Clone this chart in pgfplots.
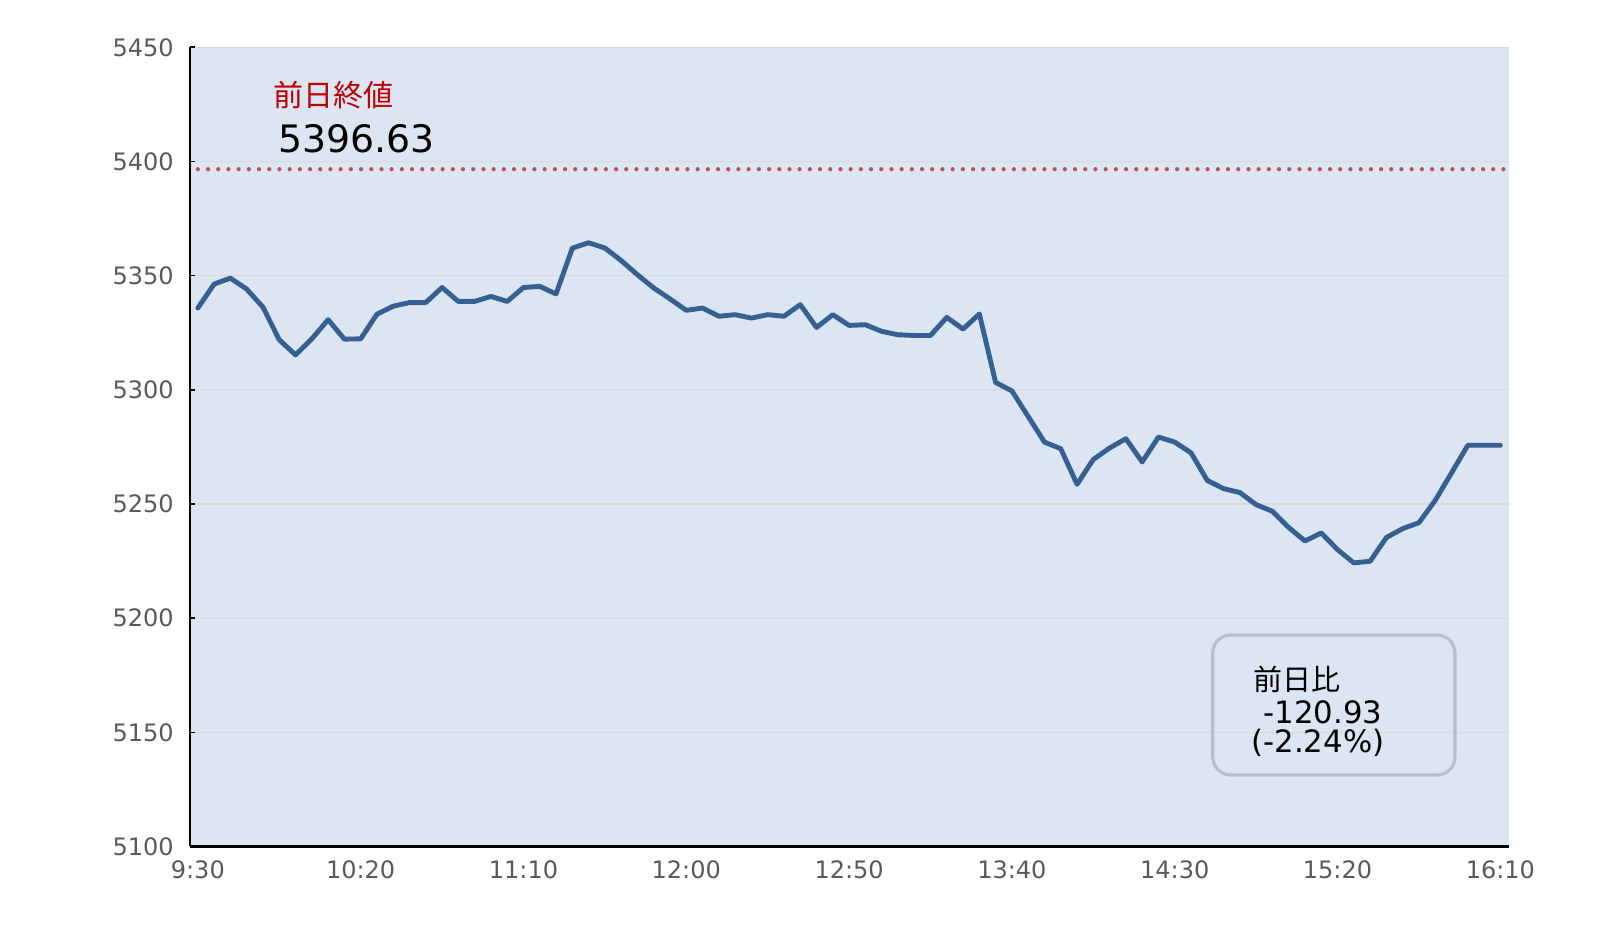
\documentclass[border=0pt]{standalone}
\usepackage{fontspec}
\setmainfont{DejaVu Sans}
\newfontfamily\jp{Noto Sans CJK JP}
\usepackage{pgfplots}
\pgfplotsset{compat=1.18}
\definecolor{bgblue}{RGB}{220,230,242}
\definecolor{lineblue}{RGB}{54,96,146}
\definecolor{dotred}{RGB}{192,80,77}
\definecolor{txtred}{RGB}{192,0,0}
\definecolor{tickgray}{RGB}{89,89,89}
\definecolor{gridgray}{RGB}{217,217,217}
\definecolor{boxgray}{RGB}{185,191,199}
\begin{document}
\begin{tikzpicture}
\useasboundingbox (0,0) rectangle (804pt,465pt);
\begin{axis}[
  at={(94.85pt,41.75pt)}, anchor=south west,
  scale only axis, width=659.4pt, height=399.6pt,
  xmin=-0.5, xmax=80.5, ymin=5100, ymax=5450,
  axis background/.style={fill=bgblue},
  axis x line=bottom, axis y line=left,
  x axis line style={-, black, line width=1.3pt},
  y axis line style={-, black, line width=1.1pt},
  xtick={0,10,...,80},
  xticklabels={9:30,10:20,11:10,12:00,12:50,13:40,14:30,15:20,16:10},
  extra x ticks={4.5,14.5,24.5,34.5,44.5,54.5,64.5,74.5,79.5},
  extra x tick labels={},
  extra x tick style={major tick length=2.5pt, tick style={black, line width=0.8pt}, grid=none},
  ytick={5100,5150,...,5450},
  ymajorgrids, grid style={gridgray, line width=0.6pt},
  tick align=inside,
  x tick style={draw=none},
  y tick style={black, line width=0.8pt},
  major tick length=2.5pt,
  tick label style={font=\fontsize{12}{14}\selectfont, text=tickgray},
  /pgf/number format/assume math mode=true,
  yticklabel style={/pgf/number format/1000 sep={}, xshift=-4.5pt},
  xticklabel style={yshift=-3.5pt},
  clip=false,
]
\addplot[dotred, line width=2.1pt, dash pattern=on 0pt off 5.1pt, line cap=round]
  coordinates {(0,5396.63) (80.3,5396.63)};
\addplot[lineblue, line width=2.45pt, line join=round, line cap=round, mark=none] coordinates {
(0,5335.8) (1,5346.3) (2,5348.9) (3,5344.1) (4,5336.2) (5,5321.9) (6,5315.3) (7,5322.3) (8,5330.7) (9,5322.2)
(10,5322.3) (11,5333.1) (12,5336.6) (13,5338.2) (14,5338.2) (15,5344.8) (16,5338.7) (17,5338.7) (18,5340.9) (19,5338.7)
(20,5344.8) (21,5345.3) (22,5342.0) (23,5362.0) (24,5364.4) (25,5362.1) (26,5356.6) (27,5350.4) (28,5344.6) (29,5339.8)
(30,5334.8) (31,5335.8) (32,5332.2) (33,5332.9) (34,5331.4) (35,5332.9) (36,5332.2) (37,5337.3) (38,5327.3) (39,5332.9)
(40,5328.2) (41,5328.5) (42,5325.6) (43,5324.1) (44,5323.8) (45,5323.8) (46,5331.7) (47,5326.6) (48,5333.2) (49,5303.2)
(50,5299.5) (51,5288.3) (52,5277.1) (53,5274.2) (54,5258.6) (55,5269.5) (56,5274.5) (57,5278.6) (58,5268.4) (59,5279.3)
(60,5277.1) (61,5272.4) (62,5260.3) (63,5256.7) (64,5255.0) (65,5249.7) (66,5246.8) (67,5239.7) (68,5233.8) (69,5237.3)
(70,5230.0) (71,5224.2) (72,5224.9) (73,5235.3) (74,5239.2) (75,5241.8) (76,5251.6) (77,5263.6) (78,5275.7) (79,5275.7)
(80,5275.7)
};
\end{axis}
\node[anchor=base west, inner sep=0pt, text=txtred, font=\jp\fontsize{15}{18}\selectfont] at (136.5pt,411.75pt) {前日終値};
\node[anchor=base west, inner sep=0pt, font=\fontsize{18.9}{23}\selectfont] at (139pt,388.5pt) {5396.63};
\draw[boxgray, line width=1.6pt, rounded corners=9pt] (606.4pt,77.5pt) rectangle (727.5pt,147.5pt);
\node[anchor=base west, inner sep=0pt, font=\jp\fontsize{14.5}{17}\selectfont] at (626.5pt,119.5pt) {前日比};
\node[anchor=base west, inner sep=0pt, font=\fontsize{15.4}{18}\selectfont] at (631.5pt,103pt) {-120.93};
\node[anchor=base west, inner sep=0pt, font=\fontsize{15.4}{18}\selectfont] at (625.5pt,88.5pt) {(-2.24\%)};
\end{tikzpicture}
\end{document}
